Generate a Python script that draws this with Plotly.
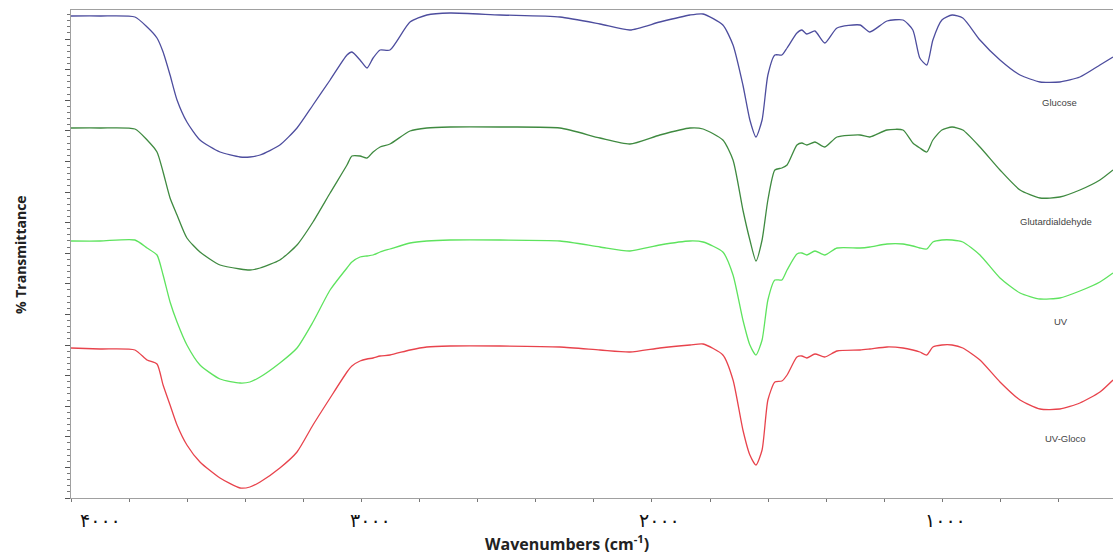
import plotly.graph_objects as go

# Wavenumbers (cm^-1) sampled along the spectra
wavenumbers = [4000, 3900, 3780, 3738, 3704, 3683, 3659, 3635, 3601, 3556,
               3487, 3418, 3384, 3349, 3281, 3222, 3167, 3108, 3050, 3033,
               3005, 2981, 2960, 2936, 2902, 2833, 2775, 2695, 2523, 2317,
               2179, 2076, 1973, 1869, 1824, 1756, 1721, 1687, 1663, 1642,
               1621, 1601, 1577, 1553, 1535, 1501, 1484, 1467, 1439, 1405,
               1363, 1284, 1250, 1191, 1136, 1102, 1078, 1054, 1033, 1002,
               967, 930, 871, 802, 733, 664, 596, 527, 458, 413]

# % Transmittance (stacked, arbitrary offset units)
glucose = [484, 484, 483, 473, 462, 448, 425, 400, 378, 360,
           348, 343, 343, 345, 355, 372, 395, 420, 445, 448,
           440, 432, 442, 450, 450, 478, 485, 487, 485, 483,
           476, 470, 478, 485, 486, 475, 455, 415, 380, 363,
           380, 425, 445, 445, 452, 467, 470, 466, 469, 457,
           472, 475, 468, 479, 480, 470, 442, 435, 460, 480,
           485, 482, 460, 440, 425, 418, 418, 423, 435, 443]

glutardialdehyde = [372, 372, 371, 360, 348, 328, 302, 285, 262, 248,
                    235, 231, 230, 232, 240, 255, 278, 307, 335, 344,
                    344, 342, 348, 353, 356, 369, 372, 373, 373, 372,
                    362, 356, 365, 372, 371, 360, 340, 290, 260, 239,
                    260, 300, 330, 332, 335, 355, 357, 355, 358, 353,
                    363, 365, 363, 370, 370, 357, 352, 348, 360, 370,
                    373, 370, 353, 330, 310, 302, 303, 310, 320, 330]

uv = [259, 259, 260, 252, 245, 225, 198, 178, 155, 135,
      121, 117, 118, 123, 137, 152, 178, 210, 232, 238,
      243, 244, 245, 248, 251, 257, 259, 260, 260, 259,
      253, 249, 255, 259, 258, 248, 225, 180, 155, 145,
      160, 200, 220, 220, 230, 246, 247, 245, 249, 245,
      252, 252, 253, 256, 256, 254, 252, 251, 258, 260,
      260, 258, 245, 222, 207, 201, 202, 209, 218, 227]

uv_gloco = [152, 151, 150, 140, 136, 115, 95, 75, 55, 38,
            22, 12, 13, 18, 32, 48, 75, 102, 128, 134,
            139, 141, 142, 144, 145, 150, 153, 154, 154, 153,
            150, 148, 152, 155, 156, 145, 120, 70, 45, 35,
            50, 100, 118, 119, 125, 143, 144, 142, 146, 143,
            149, 150, 151, 153, 152, 150, 148, 145, 153, 155,
            155, 152, 140, 118, 100, 91, 91, 97, 108, 120]

series_names = ["Glucose", "Glutardialdehyde", "UV", "UV-Gloco"]
series_values = [glucose, glutardialdehyde, uv, uv_gloco]
# label anchor points (wavenumber, value) for the curve names
label_wn = [596, 609, 592, 575]
label_val = [398, 279, 179, 62]

tick_values = [4000, 3000, 2000, 1000]
tick_labels = ["۴۰۰۰", "۳۰۰۰", "۲۰۰۰", "۱۰۰۰"]

colors = ["#4d4d9e", "#3f8a40", "#5ee35e", "#e8434c"]
label_shift = [29, 9, 8, 3]

fig = go.Figure()
for name, vals, col in zip(series_names, series_values, colors):
    fig.add_trace(go.Scatter(x=wavenumbers, y=vals, mode="lines", name=name,
                             line=dict(color=col, width=1.3, shape="spline", smoothing=0.6),
                             showlegend=False, hoverinfo="skip"))

W, H = 1113, 557
ml, mr, mt, mb = 71, 0, 10, 59
pw, ph = W - ml - mr, H - mt - mb

annotations = []
for name, wn, v in zip(series_names, label_wn, label_val):
    annotations.append(dict(x=wn, y=v, xref="x", yref="y", text=name, showarrow=False,
                            xanchor="center", yanchor="middle",
                            font=dict(family="Liberation Sans, Arial", size=9.5, color="#444444")))
for tv, tt, sh in zip(tick_values, tick_labels, label_shift):
    annotations.append(dict(x=tv, y=0, xref="x", yref="paper", yanchor="top", xanchor="center",
                            yshift=-9, xshift=sh, text=tt, showarrow=False,
                            font=dict(family="DejaVu Sans", size=19, color="#111111")))
annotations.append(dict(x=(567 - ml) / pw, y=(H - mb - 543) / ph, xref="paper", yref="paper",
                        xanchor="center", yanchor="middle",
                        showarrow=False, text="<b>Wavenumbers (cm<sup>-1</sup>)</b>",
                        font=dict(family="Open Sans", size=16, color="#222222")))
annotations.append(dict(x=(20 - ml) / pw, y=(H - mb - 255) / ph, xref="paper", yref="paper",
                        xanchor="center", yanchor="middle",
                        showarrow=False, text="<b>% Transmittance</b>", textangle=-90,
                        font=dict(family="Open Sans", size=14, color="#222222")))

fig.update_layout(
    width=W, height=H,
    margin=dict(l=ml, r=mr, t=mt, b=mb),
    paper_bgcolor="white", plot_bgcolor="white",
    annotations=annotations,
    xaxis=dict(range=[4000, 413], showgrid=False, zeroline=False,
               showline=True, linecolor="#a0a0a0", linewidth=1, mirror=True,
               showticklabels=False, tick0=4000, dtick=200,
               ticks="outside", ticklen=3, tickcolor="#777777"),
    yaxis=dict(range=[2, 490], showgrid=False, zeroline=False,
               showline=True, linecolor="#a0a0a0", linewidth=1,
               showticklabels=False, ticks="outside", ticklen=5, tickcolor="#555555",
               tick0=2, dtick=30.6,
               minor=dict(ticks="outside", ticklen=3, tickcolor="#777777", dtick=6.12, tick0=2)),
)

fig.write_html("out.html", config={"displayModeBar": False},
               post_script="document.body.style.margin='0';document.body.style.overflow='hidden';")
